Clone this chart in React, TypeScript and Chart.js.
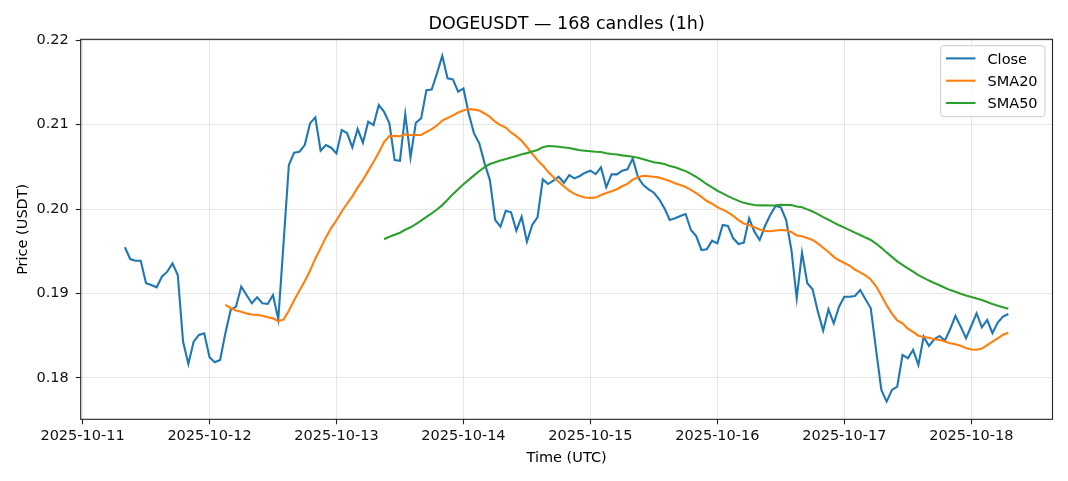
import React, { useEffect, useRef } from "react";
import { Chart, registerables } from "chart.js";

Chart.register(...registerables);

const TITLE = "DOGEUSDT — 168 candles (1h)";
const X_LABEL = "Time (UTC)";
const Y_LABEL = "Price (USDT)";

// first candle: 2025-10-11 08:00 UTC, hourly candles
const START_UTC = Date.UTC(2025, 9, 11, 8, 0, 0);
const HOUR_MS = 3600000;

const closes: number[] = [
  0.19547, 0.19408, 0.19388, 0.19388, 0.19121, 0.19101, 0.19073, 0.19199, 0.19258, 0.19357,
  0.19219, 0.18430, 0.18166, 0.18430, 0.18509, 0.18529, 0.18245, 0.18186, 0.18213, 0.18529,
  0.18805, 0.18844, 0.19081, 0.18982, 0.18884, 0.18955, 0.18884, 0.18876, 0.18982, 0.18695,
  0.19600, 0.20521, 0.20667, 0.20679, 0.20757, 0.21014, 0.21085, 0.20690, 0.20757, 0.20726,
  0.20659, 0.20935, 0.20900, 0.20730, 0.20947, 0.20785, 0.21034, 0.20994, 0.21231, 0.21152,
  0.21014, 0.20580, 0.20572, 0.21124, 0.20612, 0.21022, 0.21073, 0.21408, 0.21416, 0.21606,
  0.21814, 0.21547, 0.21535, 0.21389, 0.21428, 0.21128, 0.20896, 0.20777, 0.20541, 0.20343,
  0.19870, 0.19791, 0.19980, 0.19961, 0.19744, 0.19909, 0.19613, 0.19811, 0.19902, 0.20351,
  0.20296, 0.20335, 0.20383, 0.20312, 0.20402, 0.20363, 0.20391, 0.20430, 0.20454, 0.20414,
  0.20493, 0.20257, 0.20410, 0.20410, 0.20454, 0.20470, 0.20600, 0.20375, 0.20284, 0.20233,
  0.20193, 0.20115, 0.20008, 0.19870, 0.19890, 0.19917, 0.19941, 0.19751, 0.19680, 0.19515,
  0.19523, 0.19625, 0.19594, 0.19811, 0.19799, 0.19653, 0.19586, 0.19601, 0.19890, 0.19732,
  0.19633, 0.19799, 0.19929, 0.20036, 0.20020, 0.19870, 0.19515, 0.18943, 0.19483, 0.19121,
  0.19050, 0.18785, 0.18560, 0.18813, 0.18647, 0.18844, 0.18962, 0.18962, 0.18970, 0.19041,
  0.18931, 0.18825, 0.18331, 0.17858, 0.17720, 0.17858, 0.17897, 0.18272, 0.18233, 0.18331,
  0.18154, 0.18489, 0.18379, 0.18458, 0.18497, 0.18442, 0.18576, 0.18734, 0.18608, 0.18470,
  0.18615, 0.18766, 0.18600, 0.18686, 0.18529, 0.18655, 0.18726, 0.18757,
];

const dayTicks: string[] = [
  "2025-10-11", "2025-10-12", "2025-10-13", "2025-10-14",
  "2025-10-15", "2025-10-16", "2025-10-17", "2025-10-18",
];
const yTicks: number[] = [0.18, 0.19, 0.2, 0.21, 0.22];

const seriesNames: string[] = ["Close", "SMA20", "SMA50"];
const seriesColors: string[] = ["#1f77b4", "#ff7f0e", "#2ca02c"];
const smaWindows: number[] = [20, 50];

const Y_MIN = 0.1751;
const Y_MAX = 0.2201;

function movingAverage(values: number[], n: number): (number | null)[] {
  return values.map((_, i) => {
    if (i < n - 1) return null;
    let s = 0;
    for (let k = i - n + 1; k <= i; k++) s += values[k];
    return s / n;
  });
}

const FONT = '"DejaVu Sans", "Liberation Sans", sans-serif';

export default function App() {
  const ref = useRef<HTMLCanvasElement | null>(null);

  useEffect(() => {
    document.body.style.margin = "0";
    const canvas = ref.current;
    if (!canvas) return;

    const times = closes.map((_, i) => START_UTC + i * HOUR_MS);
    const span = times[times.length - 1] - times[0];
    const xMin = times[0] - 0.05 * span;
    const xMax = times[times.length - 1] + 0.05 * span;
    const dayValues = dayTicks.map((d) => Date.parse(d + "T00:00:00Z"));

    const series: (number | null)[][] = [
      closes,
      movingAverage(closes, smaWindows[0]),
      movingAverage(closes, smaWindows[1]),
    ];

    const datasets = series.map((vals, si) => ({
      label: seriesNames[si],
      data: vals
        .map((v, i) => ({ x: times[i], y: v }))
        .filter((p) => p.y !== null) as { x: number; y: number }[],
      borderColor: seriesColors[si],
      backgroundColor: seriesColors[si],
      borderWidth: 2.1,
      pointRadius: 0,
      tension: 0,
      fill: false,
      order: 3 - si,
    }));

    const overlay = {
      id: "overlay",
      afterDraw(chart: any) {
        const { ctx, chartArea: a } = chart;
        ctx.save();
        // frame
        ctx.strokeStyle = "#222";
        ctx.lineWidth = 1.1;
        ctx.strokeRect(a.left, a.top, a.right - a.left, a.bottom - a.top);

        // title
        ctx.fillStyle = "#000";
        ctx.textAlign = "center";
        ctx.textBaseline = "alphabetic";
        ctx.font = `17.5px ${FONT}`;
        ctx.fillText(TITLE, (a.left + a.right) / 2, 29.3);

        // axis labels
        ctx.font = `14.5px ${FONT}`;
        ctx.fillText(X_LABEL, (a.left + a.right) / 2, 462);
        ctx.save();
        ctx.translate(26.5, (a.top + a.bottom) / 2);
        ctx.rotate(-Math.PI / 2);
        ctx.fillText(Y_LABEL, 0, 0);
        ctx.restore();

        // legend
        const bx = 940.7, by = 45.7, bw = 104.3, bh = 71, r = 3;
        ctx.beginPath();
        ctx.moveTo(bx + r, by);
        ctx.lineTo(bx + bw - r, by);
        ctx.quadraticCurveTo(bx + bw, by, bx + bw, by + r);
        ctx.lineTo(bx + bw, by + bh - r);
        ctx.quadraticCurveTo(bx + bw, by + bh, bx + bw - r, by + bh);
        ctx.lineTo(bx + r, by + bh);
        ctx.quadraticCurveTo(bx, by + bh, bx, by + bh - r);
        ctx.lineTo(bx, by + r);
        ctx.quadraticCurveTo(bx, by, bx + r, by);
        ctx.closePath();
        ctx.fillStyle = "rgba(255,255,255,0.8)";
        ctx.fill();
        ctx.strokeStyle = "#cccccc";
        ctx.lineWidth = 1;
        ctx.stroke();

        const rows = [58.4, 80.7, 103.0];
        ctx.textAlign = "left";
        ctx.textBaseline = "alphabetic";
        seriesNames.forEach((name, i) => {
          ctx.strokeStyle = seriesColors[i];
          ctx.lineWidth = 2.1;
          ctx.beginPath();
          ctx.moveTo(946, rows[i]);
          ctx.lineTo(975.5, rows[i]);
          ctx.stroke();
          ctx.fillStyle = "#000";
          ctx.fillText(name, 987.5, rows[i] + 5.3);
        });
        ctx.restore();
      },
    };

    const gridColor = "rgba(176,176,176,0.3)";

    const chart = new Chart(canvas, {
      type: "line",
      data: { datasets: datasets as any },
      options: {
        animation: false,
        responsive: false,
        maintainAspectRatio: false,
        layout: { padding: { top: 39.3, right: 15.5, bottom: 0, left: 0 } },
        plugins: {
          legend: { display: false },
          title: { display: false },
          tooltip: { enabled: false },
        },
        scales: {
          x: {
            type: "linear",
            min: xMin,
            max: xMax,
            afterBuildTicks: (s: any) => {
              s.ticks = dayValues.map((v) => ({ value: v }));
            },
            afterFit: (s: any) => {
              s.height = 61.7;
            },
            grid: {
              color: gridColor,
              lineWidth: 1,
              drawTicks: true,
              tickLength: 5,
              tickColor: "#222",
              tickWidth: 1.1,
            },
            border: { display: false },
            ticks: {
              autoSkip: false,
              maxRotation: 0,
              minRotation: 0,
              padding: 3,
              color: "#111",
              font: { family: FONT, size: 14.5 },
              callback: (v: any) => new Date(Number(v)).toISOString().slice(0, 10),
            },
          },
          y: {
            type: "linear",
            min: Y_MIN,
            max: Y_MAX,
            afterBuildTicks: (s: any) => {
              s.ticks = yTicks.map((v) => ({ value: v }));
            },
            afterFit: (s: any) => {
              s.width = 80.7;
            },
            grid: {
              color: gridColor,
              lineWidth: 1,
              drawTicks: true,
              tickLength: 5,
              tickColor: "#222",
              tickWidth: 1.1,
            },
            border: { display: false },
            ticks: {
              padding: 7,
              color: "#111",
              font: { family: FONT, size: 14.5 },
              callback: (v: any) => Number(v).toFixed(2),
            },
          },
        },
      } as any,
      plugins: [overlay],
    });

    return () => {
      chart.destroy();
    };
  }, []);

  return (
    <div style={{ width: 1068, height: 481, background: "#fff" }}>
      <canvas ref={ref} width={1068} height={481} style={{ display: "block" }} />
    </div>
  );
}
